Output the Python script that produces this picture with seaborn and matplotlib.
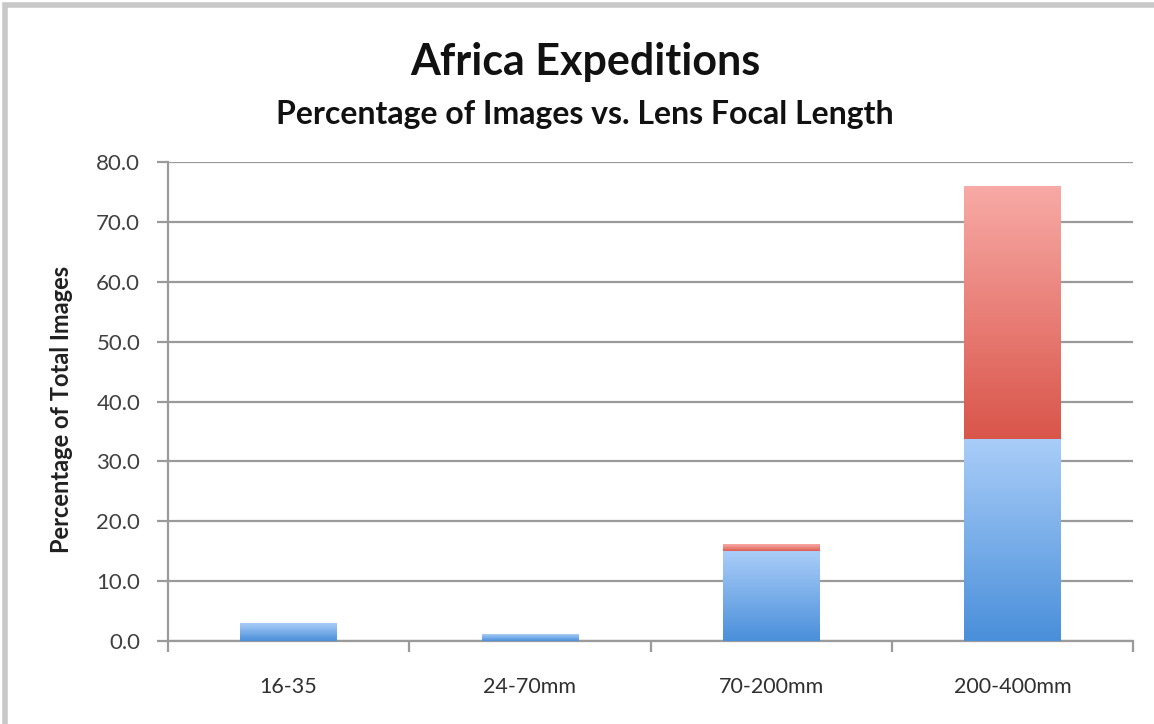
import numpy as np
import pandas as pd
import matplotlib
matplotlib.use("Agg")
import matplotlib.pyplot as plt
import seaborn as sns
from matplotlib.colors import LinearSegmentedColormap
from matplotlib.patches import Rectangle

# Lens ranges and share of images (stacked: lower + upper segment)
lenses = ["16-35", "24-70mm", "70-200mm", "200-400mm"]
lower_pct = [3.0, 1.1, 14.9, 33.7]
upper_pct = [0.0, 0.0, 1.3, 42.2]
y_ticks = [0, 10, 20, 30, 40, 50, 60, 70, 80]

sns.set_theme(style="white")
plt.rcParams["font.family"] = ["Lato", "DejaVu Sans"]

df = pd.DataFrame({"lens": lenses, "lower": lower_pct,
                   "total": np.array(lower_pct) + np.array(upper_pct)})

fig = plt.figure(figsize=(11.54, 7.24), dpi=100)
ax = fig.add_axes([0.1456, 0.1146, 0.8362, 0.6616])

sns.barplot(data=df, x="lens", y="total", color="#e06055", width=0.4,
            ax=ax, saturation=1, zorder=2)
sns.barplot(data=df, x="lens", y="lower", color="#6aa3e6", width=0.4,
            ax=ax, saturation=1, zorder=3)

blue_cmap = LinearSegmentedColormap.from_list("b", ["#4a8fda", "#a9cdf8"])
red_cmap = LinearSegmentedColormap.from_list("r", ["#d9554a", "#f8aaa6"])

n = len(lenses)
grad = np.linspace(0, 1, 256).reshape(-1, 1)
for i, p in enumerate(ax.patches):
    cmap = red_cmap if i < n else blue_cmap
    x0, y0 = p.get_x(), p.get_y()
    w, h = p.get_width(), p.get_height()
    p.set_visible(False)
    if h <= 0:
        continue
    if i < n:
        # only the upper segment shows for the total bar
        y0 = lower_pct[i]
        h = h - lower_pct[i]
        if h <= 0:
            continue
    ax.imshow(grad, extent=[x0, x0 + w, y0, y0 + h], origin="lower",
              aspect="auto", cmap=cmap, zorder=p.get_zorder(),
              interpolation="bicubic")

ax.set_xlim(-0.5, n - 0.5)
ax.set_ylim(0, 80)
ax.set_yticks(y_ticks)
ax.set_yticklabels([f"{t:.1f}" for t in y_ticks])
ax.yaxis.grid(True, color="#9a9a9a", linewidth=1.6, zorder=0)
ax.set_axisbelow(True)

for s in ["top", "right"]:
    ax.spines[s].set_visible(False)
for s in ["left", "bottom"]:
    ax.spines[s].set_color("#9a9a9a")
    ax.spines[s].set_linewidth(1.6)

ax.tick_params(axis="y", which="major", length=8, width=1.6, color="#9a9a9a",
               direction="out", left=True, labelsize=16, labelcolor="#404040",
               pad=12)
# category labels sit between boundary ticks
ax.set_xticks(np.arange(n))
ax.set_xticklabels(lenses)
ax.tick_params(axis="x", which="major", length=0, labelsize=15.5,
               labelcolor="#303030", pad=26)
ax.set_xticks(np.arange(-0.5, n, 1.0), minor=True)
ax.tick_params(axis="x", which="minor", length=8, width=1.6, color="#9a9a9a",
               direction="out", bottom=True)

ax.set_xlabel("")
ax.set_ylabel("")
fig.text(0.0537, 0.435, "Percentage of Total Images", rotation=90,
         ha="center", va="center", fontsize=17, fontweight="bold",
         color="#202020")

fig.text(0.507, 0.8964, "Africa Expeditions", ha="center", va="baseline",
         fontsize=31, fontweight="bold", color="#111111")
fig.text(0.507, 0.8287, "Percentage of Images vs. Lens Focal Length",
         ha="center", va="baseline", fontsize=23, fontweight="bold",
         color="#111111")

# thin frame around the chart area
fig.patches.append(Rectangle((0.004, -0.01), 1.2, 1.003,
                             transform=fig.transFigure, fill=False,
                             edgecolor="#c8c8c8", linewidth=4, zorder=0))

fig.savefig("out.png", dpi=100, facecolor="white")
